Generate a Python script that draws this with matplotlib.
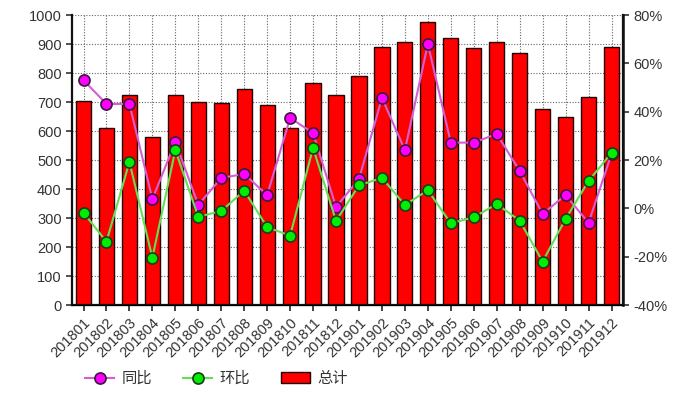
import matplotlib.pyplot as plt
from matplotlib.ticker import FuncFormatter

plt.rcParams['font.family'] = ['Liberation Sans', 'Noto Sans CJK SC', 'DejaVu Sans']

# monthly data
months = ['201801', '201802', '201803', '201804', '201805', '201806',
          '201807', '201808', '201809', '201810', '201811', '201812',
          '201901', '201902', '201903', '201904', '201905', '201906',
          '201907', '201908', '201909', '201910', '201911', '201912']
total = [705, 610, 724, 580, 724, 700, 697, 745, 690, 610, 765, 724,
         790, 890, 907, 976, 921, 886, 907, 868, 676, 648, 717, 890]
# year on year, percent
yoy = [53, 43.2, 43.2, 3.8, 27.5, 1.4, 12.6, 14.2, 5.5, 37.4, 31.2, 0.6,
       12.1, 45.7, 24.1, 68, 27.2, 27.2, 30.8, 15.5, -2.3, 5.5, -6, 22.5]
# month on month, percent
mom = [-1.8, -13.8, 19.2, -20.4, 24.1, -3.5, -1.1, 7.3, -7.8, -11.3, 25, -5.2,
       9.5, 12.6, 1.4, 7.5, -6.2, -3.7, 1.8, -5.1, -22, -4.4, 11.3, 23]

txt = '#333333'

fig = plt.figure(figsize=(6.88, 3.93), dpi=100)
ax = fig.add_axes([0.1047, 0.2239, 0.8008, 0.7379])
x = range(len(months))

bars = ax.bar(x, total, width=0.66, color='#ff0000', edgecolor='#200000',
              linewidth=1.0, label='总计', zorder=2)
ax.set_xlim(-0.5, len(months) - 0.5)
ax.set_ylim(0, 1000)
ax.set_yticks(range(0, 1001, 100))
ax.set_xticks(list(x))
ax.set_xticklabels(months, rotation=45, ha='right', rotation_mode='anchor',
                   fontsize=10.5, color=txt)
ax.tick_params(axis='y', labelsize=10.5, colors=txt, length=4, width=1.2)
ax.tick_params(axis='x', length=4, width=1.2, colors='#222222', labelcolor=txt)
ax.grid(True, color='#666666', linestyle=(0, (1, 1.5)), linewidth=0.8, zorder=0)
ax.set_axisbelow(True)
ax.spines['top'].set_visible(False)
for s in ['left', 'bottom', 'right']:
    ax.spines[s].set_linewidth(1.6)
    ax.spines[s].set_color('#111111')

ax2 = ax.twinx()
ax2.set_ylim(-40, 80)
ax2.set_yticks(range(-40, 81, 20))
ax2.yaxis.set_major_formatter(FuncFormatter(lambda v, p: '%d%%' % v))
ax2.tick_params(axis='y', labelsize=10.5, colors=txt, length=4, width=1.2)
ax2.spines['top'].set_visible(False)
ax2.spines['right'].set_linewidth(1.8)
ax2.spines['right'].set_color('#111111')
ax2.spines['left'].set_visible(False)

l1, = ax2.plot(x, yoy, color='#d35fd3', linewidth=1.5, marker='o',
               markersize=8, markerfacecolor='#ff00ff',
               markeredgecolor='#3a1a3a', markeredgewidth=1.2, label='同比', zorder=3)
l2, = ax2.plot(x, mom, color='#66dd55', linewidth=1.5, marker='o',
               markersize=8, markerfacecolor='#00ee00',
               markeredgecolor='#1a3a1a', markeredgewidth=1.2, label='环比', zorder=4)

leg = fig.legend([l1, l2, bars], ['同比', '环比', '总计'], loc='lower left',
                 bbox_to_anchor=(0.104, -0.02), ncol=3, frameon=False,
                 fontsize=11, handlelength=1.9, columnspacing=2.0,
                 handletextpad=0.5)
for t in leg.get_texts():
    t.set_color(txt)
    t.set_family(['Noto Sans CJK SC', 'DejaVu Sans'])

fig.savefig('out.png', dpi=100, facecolor='white')
